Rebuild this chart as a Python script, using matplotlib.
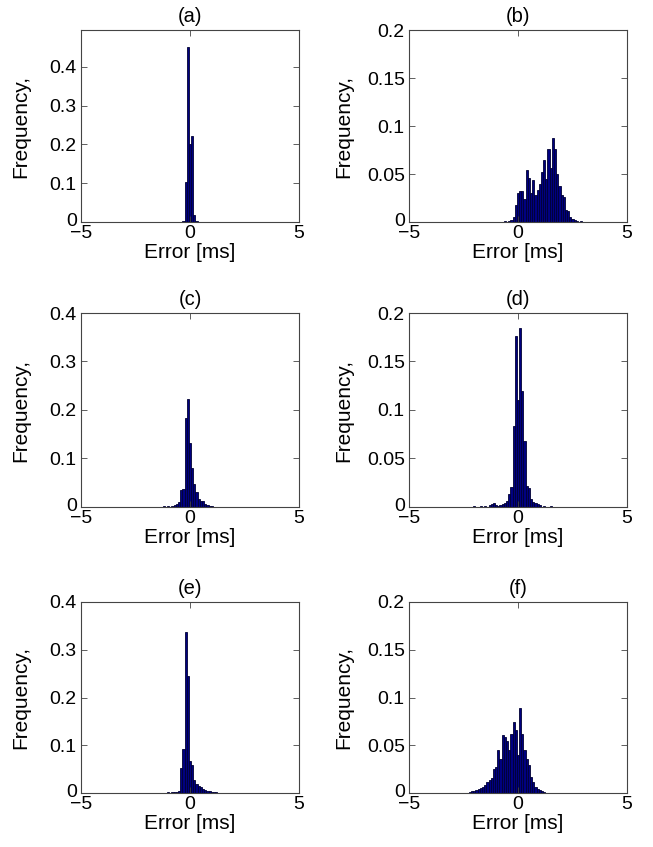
"""
Six error histograms, MATLAB hist style, 3 rows x 2 columns.
"""
import numpy as np
import matplotlib
matplotlib.use("Agg")
import matplotlib.pyplot as plt
from matplotlib.transforms import ScaledTranslation

plt.rcParams.update({"font.family": ["Liberation Sans", "DejaVu Sans"], "font.size": 14})

# ---------------------------------------------------------------------------
# Data: bin centres [ms] and relative frequencies
# ---------------------------------------------------------------------------
a_x = [-1.0, -0.6, -0.4, -0.3, -0.2, -0.1, 0.0, 0.1, 0.2, 0.3, 0.5]
a_y = [0.0005, 0.001, 0.001, 0.003, 0.102, 0.452, 0.200, 0.223, 0.017, 0.002, 0.0005]

b_x = [-1.5, -1.3, -1.0, -0.6, -0.4, -0.3,
       -0.2, -0.1, 0.0, 0.1, 0.2, 0.3, 0.4, 0.5, 0.6, 0.7,
       0.8, 0.9, 1.0, 1.1, 1.2, 1.3, 1.4, 1.5, 1.6, 1.7,
       1.8, 1.9, 2.0, 2.1, 2.2, 2.3, 2.4, 2.5, 2.6, 2.7,
       2.9, 3.1, 3.4]
b_y = [0.0005, 0.0005, 0.0005, 0.001, 0.001, 0.002,
       0.005, 0.018, 0.030, 0.032, 0.032, 0.024, 0.054, 0.046, 0.030, 0.044,
       0.028, 0.033, 0.040, 0.052, 0.065, 0.045, 0.076, 0.056, 0.087, 0.076,
       0.050, 0.037, 0.028, 0.026, 0.012, 0.011, 0.005, 0.003, 0.002, 0.001,
       0.001, 0.0005, 0.0005]

c_x = [-3.0, -2.6, -2.2, -1.8, -1.5, -1.2, -1.0, -0.8, -0.7, -0.6,
       -0.5, -0.4, -0.3, -0.2, -0.1, 0.0, 0.1, 0.2, 0.3, 0.4,
       0.5, 0.6, 0.7, 0.8, 0.9, 1.0, 1.2, 1.4, 1.7, 2.0]
c_y = [0.0005, 0.0005, 0.001, 0.001, 0.001, 0.002, 0.002, 0.003, 0.004, 0.006,
       0.010, 0.035, 0.038, 0.183, 0.223, 0.131, 0.080, 0.048, 0.031, 0.017,
       0.012, 0.012, 0.006, 0.004, 0.003, 0.002, 0.001, 0.001, 0.0005, 0.0005]

d_x = [-3.0, -2.5, -2.0, -1.7, -1.5, -1.3, -1.2, -1.1, -1.0, -0.9,
       -0.8, -0.7, -0.6, -0.5, -0.4, -0.3, -0.2, -0.1, 0.0, 0.1,
       0.2, 0.3, 0.4, 0.5, 0.6, 0.7, 0.8, 0.9, 1.0, 1.2,
       1.5, 2.0, 3.0, 4.0]
d_y = [0.0005, 0.0005, 0.001, 0.001, 0.001, 0.002, 0.003, 0.004, 0.002, 0.001,
       0.002, 0.003, 0.004, 0.006, 0.013, 0.021, 0.084, 0.176, 0.110, 0.185,
       0.120, 0.068, 0.022, 0.020, 0.008, 0.005, 0.004, 0.003, 0.002, 0.001,
       0.001, 0.0005, 0.0005, 0.0005]

e_x = [-3.0, -2.5, -2.0, -1.7, -1.4, -1.2, -1.0, -0.8, -0.7, -0.6,
       -0.5, -0.4, -0.3, -0.2, -0.1, 0.0, 0.1, 0.2, 0.3, 0.4,
       0.5, 0.6, 0.7, 0.8, 0.9, 1.0, 1.1, 1.2, 1.3]
e_y = [0.0005, 0.0005, 0.001, 0.001, 0.001, 0.001, 0.002, 0.002, 0.002, 0.003,
       0.005, 0.053, 0.092, 0.338, 0.244, 0.068, 0.058, 0.027, 0.018, 0.014,
       0.013, 0.009, 0.007, 0.005, 0.004, 0.003, 0.002, 0.002, 0.001]

f_x = [-3.5, -3.0, -2.5, -2.2, -2.1, -2.0, -1.9, -1.8, -1.7, -1.6,
       -1.5, -1.4, -1.3, -1.2, -1.1, -1.0, -0.9, -0.8, -0.7, -0.6,
       -0.5, -0.4, -0.3, -0.2, -0.1, 0.0, 0.1, 0.2, 0.3, 0.4,
       0.5, 0.6, 0.7, 0.8, 0.9, 1.0, 1.1, 1.2]
f_y = [0.0005, 0.0005, 0.0005, 0.001, 0.002, 0.002, 0.003, 0.004, 0.005, 0.006,
       0.008, 0.0115, 0.014, 0.016, 0.025, 0.027, 0.045, 0.036, 0.061, 0.059,
       0.054, 0.045, 0.062, 0.074, 0.066, 0.040, 0.089, 0.062, 0.045, 0.036,
       0.029, 0.017, 0.011, 0.006, 0.004, 0.003, 0.002, 0.001]

labels = ["(a)", "(b)", "(c)", "(d)", "(e)", "(f)"]
ylims = [0.495, 0.2, 0.4, 0.2, 0.4, 0.2]
yticks = [[0, 0.1, 0.2, 0.3, 0.4],
          [0, 0.05, 0.1, 0.15, 0.2],
          [0, 0.1, 0.2, 0.3, 0.4],
          [0, 0.05, 0.1, 0.15, 0.2],
          [0, 0.1, 0.2, 0.3, 0.4],
          [0, 0.05, 0.1, 0.15, 0.2]]
series = [(a_x, a_y), (b_x, b_y), (c_x, c_y), (d_x, d_y), (e_x, e_y), (f_x, f_y)]

# axes boxes in pixels (left, top, right, bottom) of a 653 x 847 canvas
W, H = 653, 847
cols = [(81, 299), (409, 627)]
rows = [(30, 222), (313, 507), (602, 793)]

fig = plt.figure(figsize=(W / 100, H / 100), dpi=100)
frame = "#444444"
nudge = ScaledTranslation(0, 3 / 100, fig.dpi_scale_trans)  # ~3 px up

for i, (xs, ys) in enumerate(series):
    (x0, x1), (y0, y1) = cols[i % 2], rows[i // 2]
    ax = fig.add_axes([x0 / W, 1 - y1 / H, (x1 - x0) / W, (y1 - y0) / H])
    ax.bar(xs, ys, width=0.1, color="#000080", edgecolor="#000033", linewidth=0.6)
    ax.set_xlim(-5, 5)
    ax.set_ylim(0, ylims[i])
    ax.set_xticks([-5, 0, 5])
    ax.set_xticklabels(["\u22125", "0", "5"])
    ax.set_yticks(yticks[i])
    ax.set_yticklabels([f"{v:g}" for v in yticks[i]])
    ax.tick_params(direction="in", length=4, width=0.6, color=frame,
                   top=True, right=True, pad=3)
    ax.tick_params(axis="x", pad=2)
    # MATLAB lifts the "0" a little above the corner
    zero = ax.get_yticklabels()[0]
    zero.set_transform(zero.get_transform() + nudge)
    for s in ax.spines.values():
        s.set_color(frame)
        s.set_linewidth(0.8)
    ax.set_title(labels[i], fontsize=14.5, pad=6)
    ax.set_xlabel("Error [ms]", fontsize=15, labelpad=1)
    ax.set_ylabel("Frequency,", fontsize=15)
    ax.yaxis.set_label_coords(-0.235 if i % 2 == 0 else -0.255, 0.5)

fig.savefig("out.png", dpi=100)
